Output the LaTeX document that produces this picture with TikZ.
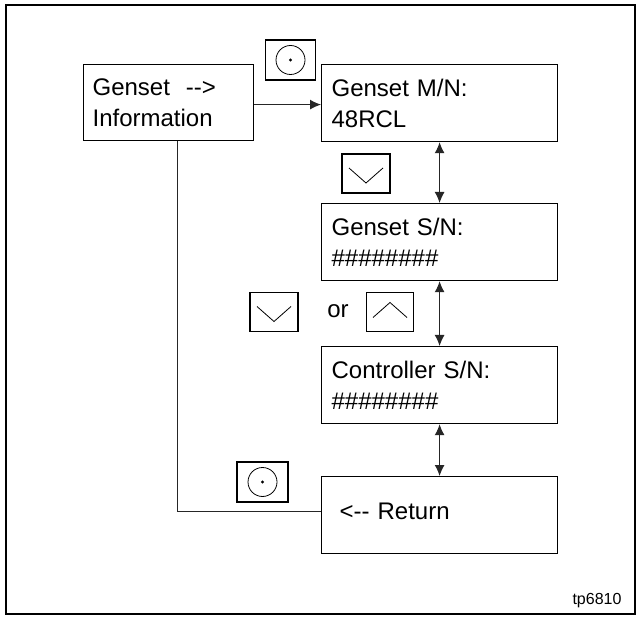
\documentclass[tikz,border=0pt]{standalone}
\usepackage{fontspec}
\setmainfont{Liberation Sans}
\usetikzlibrary{arrows.meta}
\tikzset{%
  screen/.style={draw, line width=1.2pt, anchor=north west, minimum height=77pt,
    text width=216pt, inner xsep=10pt, align=left,
    font=\fontsize{24}{31}\selectfont},% display window
  keybox/.style={draw, line width=1.1pt, minimum width=50pt, minimum height=40pt,
    inner sep=0pt},% push button
  keymark/.style={line width=0.8pt},% symbol on a button
  link/.style={line width=1.1pt, draw=black!85},
  tip/.style={-{Latex[length=11pt,width=10pt]}},
  scroll/.style={link, {Latex[length=11pt,width=10pt]}-{Latex[length=11pt,width=10pt]}}% up / down
}

\begin{document}
\begin{tikzpicture}[x=1pt, y=-1pt]
\useasboundingbox (0,0) rectangle (640,620);
\draw[line width=2pt] (5.5,5.5) rectangle (635,614);

% screens
\node[screen, text width=152pt, inner xsep=9pt, minimum height=76pt] (info) at (83,64) {Genset\ \ -{}->\\Information};
\node[screen] (mn) at (321,64) {Genset M/N:\\48RCL};
\node[screen] (sn) at (321,203) {Genset S/N:\\\#\#\#\#\#\#\#\#};
\node[screen] (cn) at (321,346) {Controller S/N:\\\#\#\#\#\#\#\#\#};
\node[screen] (ret) at (321,476) {\hspace*{8pt}<-{}- Return\vspace*{8pt}};

% buttons
\node[keybox] (kselA) at (290.5,60) {};
\draw[keymark] (kselA.center) circle (14.5pt);
\fill (kselA.center) circle (1.7pt);

\node[keybox, minimum width=48pt, minimum height=39pt] (kdownA) at (366,173.5) {};
\draw[keymark] ([shift={(-17,-5.5)}]kdownA.center) -- ([shift={(0,9.5)}]kdownA.center)
  -- ([shift={(17,-5.5)}]kdownA.center);

\node[keybox, minimum width=48pt, minimum height=39pt] (kdownB) at (274,312) {};
\draw[keymark] ([shift={(-17,-5.5)}]kdownB.center) -- ([shift={(0,9.5)}]kdownB.center)
  -- ([shift={(17,-5.5)}]kdownB.center);

\node[font=\fontsize{24}{28}\selectfont] (orword) at (338,311) {or};

\node[keybox, minimum width=47pt, minimum height=39pt] (kupB) at (390,312) {};
\draw[keymark] ([shift={(-17,5.5)}]kupB.center) -- ([shift={(0,-9.5)}]kupB.center)
  -- ([shift={(17,5.5)}]kupB.center);

\node[keybox, minimum width=51pt] (kselB) at (262.5,482) {};
\draw[keymark] (kselB.center) circle (14.5pt);
\fill (kselB.center) circle (1.7pt);

% connectors
\draw[link, tip] ([yshift=-2pt]info.east) -- ([yshift=-2pt]info.east -| mn.west);
\draw[scroll] (mn.south) -- (sn.north);
\draw[scroll] (sn.south) -- (cn.north);
\draw[scroll] (cn.south) -- (ret.north);
\draw[link] ([xshift=9pt]info.south) |- ([yshift=3.5pt]ret.west);

\node[font=\fontsize{16}{18}\selectfont] (tag) at (597,601) {tp6810};
\end{tikzpicture}
\end{document}
